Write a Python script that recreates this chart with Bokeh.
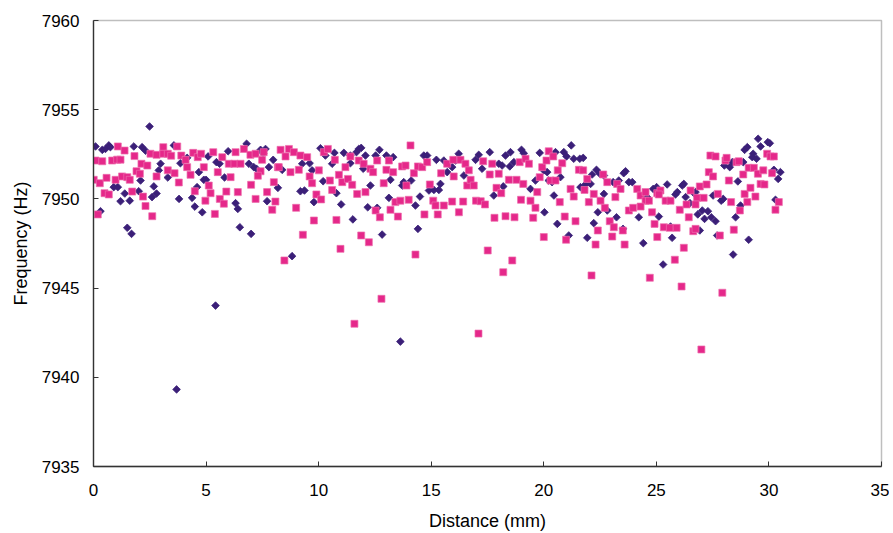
from bokeh.plotting import figure
from bokeh.models import FixedTicker, Range1d
from bokeh.embed import file_html
from bokeh.resources import INLINE
import math

# ---- data ----
purple_pts = [
    (0.09,7952.94),(0.39,7952.75),(0.53,7952.80),(0.68,7953.00),(0.75,7952.90),(1.79,7952.94),(2.16,7952.90),(2.31,7952.70),
    (2.49,7954.06),(3.57,7953.00),(2.98,7951.97),(2.90,7951.60),(2.09,7951.03),(2.68,7950.70),(2.80,7950.30),(2.60,7950.10),
    (3.30,7951.20),(0.90,7950.66),(1.08,7950.66),(1.39,7950.30),(1.20,7949.87),(1.61,7949.90),(2.01,7950.43),(0.31,7949.31),
    (1.50,7948.38),(1.69,7948.04),(3.80,7950.00),(3.86,7952.00),(4.16,7952.30),(4.38,7950.06),(4.50,7949.57),(4.83,7949.25),
    (4.60,7950.66),(4.68,7951.50),(4.90,7951.07),(5.00,7951.07),(5.09,7952.38),(5.46,7952.06),(5.60,7951.97),(5.82,7951.20),
    (5.98,7952.67),(6.31,7949.76),(6.41,7949.44),(6.50,7948.41),(6.80,7953.09),(6.90,7951.97),(7.12,7951.78),(7.24,7951.69),
    (7.42,7952.75),(7.54,7952.56),(7.64,7952.80),(7.79,7951.78),(7.98,7952.19),(8.19,7950.62),(7.71,7949.87),(7.00,7948.04),
    (5.42,7944.02),(3.69,7939.32),
    (8.38,7951.63),(9.19,7950.43),(9.37,7950.47),(9.79,7949.82),(9.27,7951.97),(9.60,7952.00),(9.71,7951.60),(10.08,7952.84),
    (10.20,7950.99),(10.30,7952.43),(10.60,7951.97),(10.70,7952.58),(10.79,7950.32),(11.00,7949.69),(11.12,7952.58),(11.41,7952.43),
    (11.41,7952.00),(11.68,7952.62),(11.78,7952.80),(11.89,7952.86),(11.52,7948.85),(12.08,7952.43),(11.98,7951.69),(12.30,7950.75),
    (12.18,7949.53),(12.53,7952.43),(12.60,7949.50),(12.70,7952.75),(13.01,7952.43),(13.31,7952.34),(13.19,7951.07),(13.12,7950.06),
    (12.82,7948.00),(13.71,7950.75),(13.78,7950.94),(14.11,7951.03),(14.30,7949.63),(14.50,7950.13),(14.67,7952.43),(14.82,7952.43),
    (14.90,7950.47),(15.12,7950.50),(15.34,7950.50),(15.23,7952.19),(15.41,7950.84),(15.56,7952.15),(15.71,7951.50),(15.93,7951.78),
    (16.08,7952.15),(16.22,7952.53),(16.45,7951.31),(14.41,7948.32),(8.82,7946.79),(13.63,7942.00),
    (17.11,7952.47),(17.60,7952.62),(16.97,7952.19),(17.26,7951.69),(18.00,7951.97),(18.15,7951.87),(18.30,7952.43),(18.52,7952.62),
    (18.67,7952.06),(18.49,7951.82),(19.01,7952.75),(19.11,7952.56),(18.20,7950.70),(17.78,7950.19),(19.41,7950.56),(19.82,7952.58),
    (19.63,7951.03),(20.00,7951.60),(20.15,7951.50),(20.22,7951.03),(20.37,7950.94),(20.45,7950.19),(20.03,7949.25),(20.52,7952.62),
    (20.89,7952.62),(21.01,7952.38),(21.22,7953.00),(20.74,7951.22),(21.33,7952.25),(21.60,7952.25),(21.75,7952.30),(21.63,7950.66),
    (21.85,7950.81),(22.08,7950.84),(20.60,7948.60),(21.11,7947.95),(21.93,7947.82),(24.42,7947.52),(22.15,7951.37),(22.34,7951.63),
    (22.49,7951.41),(22.67,7951.31),(22.40,7949.25),(22.67,7950.28),(22.22,7948.64),(22.82,7949.35),(23.23,7948.97),(23.08,7950.94),
    (23.33,7951.03),(23.55,7951.44),(23.63,7951.55),(23.78,7950.94),(23.93,7950.94),(23.52,7948.32),(24.22,7948.97),(24.59,7950.10),
    (24.86,7950.56),(25.01,7950.66),
    (25.48,7950.81),(26.15,7950.75),(26.22,7950.84),(25.85,7950.25),(25.93,7950.38),(26.30,7950.10),(26.49,7949.76),(26.67,7950.32),
    (26.74,7950.38),(26.93,7948.23),(26.84,7949.13),(27.04,7949.35),(27.14,7948.88),(27.29,7949.31),(27.44,7948.97),(27.63,7948.75),
    (25.70,7947.82),(25.11,7949.01),(25.63,7948.45),(27.52,7950.19),(27.88,7949.90),(27.97,7950.00),(27.70,7947.95),(28.02,7951.87),
    (28.26,7951.78),(28.37,7952.06),(28.62,7950.98),(28.52,7948.97),(28.74,7949.63),(28.86,7952.06),(28.92,7952.75),(29.04,7952.90),
    (29.30,7952.53),(29.26,7952.34),(29.45,7952.25),(29.63,7952.94),(29.52,7953.37),(29.95,7953.18),(30.04,7953.12),(30.22,7951.63),
    (30.51,7951.50),(30.41,7951.12),(30.29,7949.95),(29.10,7947.71),(25.30,7946.32),(28.41,7946.88),
]

pink_pts = [
    (0.01,7951.07),(0.09,7952.15),(0.39,7952.11),(0.83,7952.15),(1.05,7952.20),(1.20,7952.20),(0.28,7950.88),(0.49,7950.32),
    (0.68,7950.25),(0.58,7951.18),(0.98,7951.07),(1.27,7951.26),(1.50,7951.22),(1.61,7951.07),(1.08,7952.94),(1.38,7952.71),
    (1.82,7952.40),(1.91,7951.55),(2.06,7951.41),(2.13,7951.97),(2.39,7951.87),(1.72,7950.41),(2.20,7950.13),(2.31,7949.60),
    (2.61,7949.03),(0.19,7949.13),(2.53,7952.53),(2.80,7952.47),(3.10,7952.90),(3.10,7952.53),(3.30,7952.53),(3.45,7952.42),
    (3.72,7952.94),(3.90,7952.43),(2.80,7951.26),(3.30,7951.60),(3.60,7951.44),(3.79,7950.92),(4.09,7952.19),(4.16,7951.78),
    (4.31,7951.35),(4.43,7952.58),(4.63,7952.34),(4.78,7952.53),(4.90,7951.78),(4.50,7950.43),(5.12,7950.75),(5.20,7950.32),
    (4.97,7949.90),(5.32,7952.62),(5.72,7952.34),(5.52,7951.50),(6.09,7951.22),(5.90,7950.41),(6.41,7950.38),(5.61,7950.00),
    (5.79,7949.73),(5.39,7949.16),(6.31,7952.62),(6.68,7952.80),(6.01,7951.97),(6.26,7951.97),(6.53,7951.97),(6.97,7952.47),
    (7.20,7952.53),(7.56,7952.62),(7.49,7952.19),(7.00,7950.79),(7.20,7950.00),(7.42,7951.55),(7.30,7951.30),(8.01,7950.94),
    (7.71,7950.38),(8.08,7949.85),(7.94,7949.39),(8.19,7951.78),
    (8.31,7952.75),(8.68,7952.80),(8.90,7952.62),(8.53,7952.38),(9.19,7952.43),(9.49,7952.34),(8.23,7951.78),(8.75,7951.50),
    (9.12,7951.63),(9.00,7949.50),(9.60,7951.26),(9.71,7950.88),(9.90,7950.25),(10.11,7949.97),(9.79,7948.79),(9.30,7947.99),
    (10.23,7952.62),(10.41,7952.80),(10.01,7951.60),(10.50,7951.03),(10.60,7950.50),(10.72,7952.19),(10.90,7951.35),(11.05,7950.94),
    (10.79,7948.82),(11.19,7951.78),(11.41,7952.38),(11.30,7951.12),(11.49,7950.79),(11.71,7950.28),(11.78,7952.15),(12.00,7951.97),
    (12.08,7950.38),(12.30,7951.69),(12.42,7951.50),(12.60,7952.15),(12.89,7950.88),(13.01,7951.63),(13.31,7951.50),(13.12,7952.15),
    (12.53,7949.35),(12.72,7948.97),(13.19,7949.39),(13.52,7949.01),(13.41,7949.82),(13.63,7949.90),(11.89,7947.95),(12.23,7947.57),
    (10.97,7947.20),(8.48,7946.55),(14.30,7946.88),(12.79,7944.40),(11.59,7943.00),(13.71,7951.82),(13.86,7951.87),(14.08,7953.00),
    (13.90,7950.75),(14.00,7949.95),(14.23,7951.44),(14.41,7951.82),(14.60,7951.78),(14.82,7952.06),(14.94,7950.81),(15.09,7949.90),
    (15.19,7949.63),(14.70,7949.13),(15.29,7949.13),(15.56,7949.63),(15.93,7949.85),(16.23,7949.25),(16.42,7949.85),(15.44,7951.44),
    (15.71,7951.97),(15.98,7952.19),(16.30,7952.19),(16.52,7951.97),(16.00,7951.26),(16.60,7950.75),
    (16.67,7951.60),(16.75,7951.07),(16.89,7950.75),(17.31,7952.11),(17.71,7951.97),(17.60,7951.37),(18.00,7951.41),(17.90,7950.62),
    (18.11,7950.32),(18.45,7951.07),(18.79,7951.07),(19.09,7950.84),(18.93,7952.06),(19.19,7952.25),(19.34,7951.97),(16.99,7949.90),
    (17.20,7949.87),(17.39,7949.69),(17.81,7948.94),(18.30,7949.03),(18.70,7948.97),(18.99,7949.95),(19.41,7949.90),(19.63,7949.50),
    (19.53,7948.94),(19.71,7950.38),(19.82,7951.22),(19.93,7951.78),(20.22,7952.67),(20.12,7952.15),(20.42,7952.38),(20.30,7951.03),
    (20.52,7951.03),(20.62,7951.60),(20.82,7952.00),(20.71,7949.82),(20.93,7949.01),(21.19,7950.56),(21.33,7950.13),(21.41,7948.75),
    (21.56,7951.63),(21.75,7951.60),(21.93,7951.12),(21.81,7950.50),(22.00,7949.82),(22.22,7950.28),(22.52,7949.90),(22.40,7948.23),
    (22.64,7951.37),(22.82,7950.94),(22.71,7949.50),(22.93,7948.75),(23.11,7948.41),(23.18,7950.10),(23.26,7950.84),(23.41,7950.56),
    (23.51,7948.23),(23.78,7949.35),(23.97,7949.50),(24.15,7950.56),(24.30,7950.19),(24.52,7950.38),(24.52,7949.90),(24.30,7949.57),
    (24.67,7949.90),(24.81,7949.25),(24.92,7948.60),(25.04,7950.32),(20.00,7947.86),(20.99,7947.71),(22.30,7947.44),(23.04,7947.89),
    (23.59,7947.44),(25.04,7947.86),(17.51,7947.11),(18.60,7946.55),(18.20,7945.89),(22.12,7945.71),(24.71,7945.58),(17.10,7942.45),
    (25.18,7950.47),(25.11,7950.25),(25.41,7949.90),(25.63,7949.90),(25.33,7948.41),(25.60,7948.38),(25.90,7948.38),(26.04,7949.39),
    (26.34,7949.69),(26.44,7948.97),(26.22,7947.26),(25.82,7946.59),(26.12,7945.09),(27.93,7944.74),(27.00,7941.56),(26.52,7950.47),
    (26.81,7950.06),(27.10,7950.06),(26.74,7949.69),(26.64,7948.19),(26.74,7948.32),(26.93,7950.70),(27.23,7950.81),(27.33,7951.50),
    (27.52,7951.26),(27.40,7952.43),(27.63,7952.38),(27.73,7950.28),(27.82,7947.95),(28.07,7952.15),(28.12,7952.30),(28.22,7951.03),
    (28.32,7949.82),(28.44,7948.27),(28.56,7952.06),(28.66,7952.11),(28.71,7949.35),(28.86,7951.37),(28.92,7950.28),(29.04,7949.82),
    (29.10,7951.74),(29.33,7951.74),(29.18,7950.62),(29.40,7950.13),(29.51,7951.41),(29.63,7950.84),(29.80,7950.81),(29.75,7951.60),
    (29.92,7952.53),(30.07,7952.38),(30.22,7952.38),(30.14,7951.44),(30.44,7949.82),(30.29,7949.39),
]

purple_distance = [a for a, b in purple_pts]
purple_freq = [b for a, b in purple_pts]
pink_distance = [a for a, b in pink_pts]
pink_freq = [b for a, b in pink_pts]

x_ticks = [0, 5, 10, 15, 20, 25, 30, 35]
y_ticks = [7935, 7940, 7945, 7950, 7955, 7960]

FONT = "Liberation Sans"

p = figure(width=889, height=533,
           x_range=Range1d(0, 35), y_range=Range1d(7935, 7960),
           output_backend="svg", toolbar_location=None,
           min_border_left=93, min_border_right=8,
           min_border_top=20, min_border_bottom=67)

p.background_fill_color = "white"
p.border_fill_color = "white"
p.outline_line_color = "#BEBEBE"
p.outline_line_width = 1.5
p.xgrid.visible = False
p.ygrid.visible = False

p.scatter(purple_distance, purple_freq, marker="square", size=5.4, angle=math.pi / 4,
          fill_color="#3B1F78", line_color="#3B1F78", line_width=0.8)
p.scatter(pink_distance, pink_freq, marker="square", size=7.0,
          fill_color="#E5288A", line_color="#EE6FAE", line_width=0.7)

for ax, ticks in ((p.xaxis, x_ticks), (p.yaxis, y_ticks)):
    ax.ticker = FixedTicker(ticks=ticks)
    ax.axis_line_color = "#333333"
    ax.axis_line_width = 1.3
    ax.major_tick_line_color = "#333333"
    ax.major_tick_in = 5
    ax.major_tick_out = 0
    ax.minor_tick_line_color = None
    ax.major_label_text_font = FONT
    ax.major_label_text_font_size = "17px"
    ax.major_label_text_color = "black"
    ax.axis_label_text_font = FONT
    ax.axis_label_text_font_size = "18px"
    ax.axis_label_text_font_style = "normal"
    ax.axis_label_text_color = "black"

p.xaxis.axis_label = "Distance (mm)"
p.yaxis.axis_label = "Frequency (Hz)"
p.xaxis.major_label_standoff = 17
p.yaxis.major_label_standoff = 14
p.xaxis.axis_label_standoff = 12
p.yaxis.axis_label_standoff = 8

open("out.html", "w").write(file_html(p, INLINE))
